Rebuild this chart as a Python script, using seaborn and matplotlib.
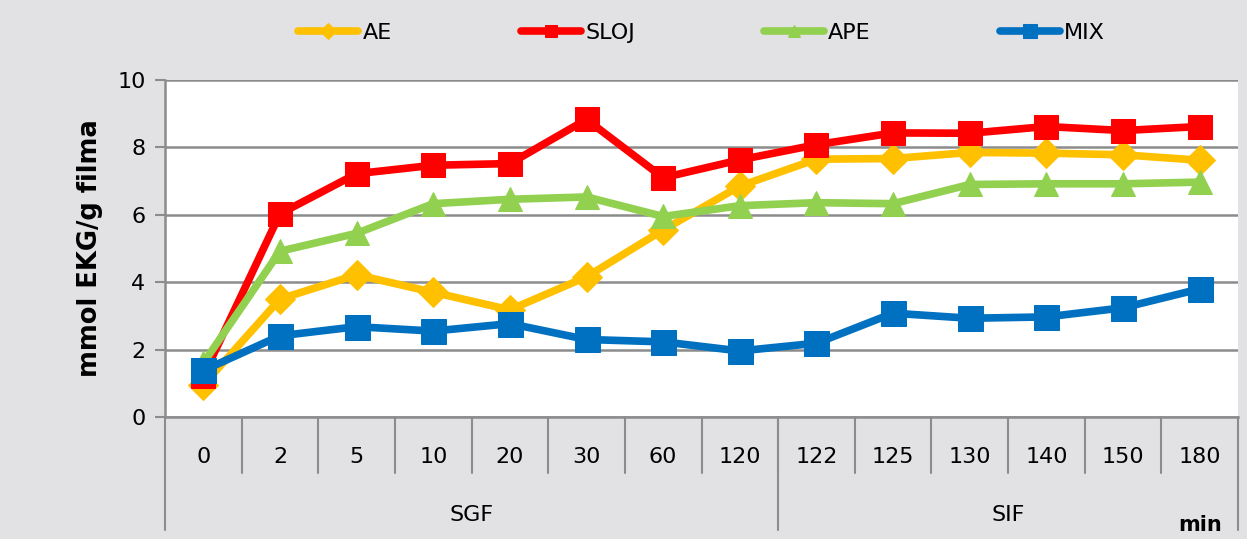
import numpy as np
import pandas as pd
import matplotlib
matplotlib.use("Agg")
import matplotlib.pyplot as plt
import matplotlib.transforms as mtransforms
import seaborn as sns

# podaci ocitani sa grafika
vreme = ['0', '2', '5', '10', '20', '30', '60', '120',
         '122', '125', '130', '140', '150', '180']
faza = ['SGF', 'SIF']
faza_broj = [8, 6]

ae = [0.95, 3.5, 4.22, 3.7, 3.18, 4.16, 5.55, 6.85, 7.65, 7.67, 7.85, 7.83, 7.78, 7.62]
sloj = [1.22, 6.03, 7.22, 7.47, 7.52, 8.83, 7.1, 7.63, 8.08, 8.43, 8.42, 8.62, 8.5, 8.62]
ape = [1.6, 4.92, 5.45, 6.33, 6.46, 6.53, 5.95, 6.27, 6.36, 6.33, 6.9, 6.92, 6.92, 6.97]
mix = [1.38, 2.41, 2.68, 2.55, 2.77, 2.3, 2.23, 1.96, 2.19, 3.08, 2.93, 2.97, 3.24, 3.8]

serije = ['AE', 'SLOJ', 'APE', 'MIX']
boje = {'AE': '#ffc000', 'SLOJ': '#ff0000', 'APE': '#92d050', 'MIX': '#0070c0'}
markeri = {'AE': 'D', 'SLOJ': 's', 'APE': '^', 'MIX': 's'}
velicine = {'AE': 15, 'SLOJ': 17, 'APE': 17, 'MIX': 18}

df = pd.DataFrame({
    'x': np.tile(np.arange(len(vreme)), 4),
    'vrednost': ae + sloj + ape + mix,
    'serija': np.repeat(serije, len(vreme)),
})

sns.set_style("white")
plt.rcParams['font.family'] = ['DejaVu Sans']
plt.rcParams['text.color'] = 'black'
plt.rcParams['axes.labelcolor'] = 'black'
plt.rcParams['ytick.labelcolor'] = 'black'

fig = plt.figure(figsize=(12.47, 5.39), dpi=100)
fig.patch.set_facecolor('#e2e2e5')
ax = fig.add_axes([165 / 1247, 1 - 417 / 539, (1238 - 165) / 1247, 337 / 539])
ax.set_facecolor('white')

for s in serije:
    d = df[df['serija'] == s]
    sns.lineplot(data=d, x='x', y='vrednost', ax=ax, color=boje[s],
                 marker=markeri[s], markersize=velicine[s], linewidth=5.5,
                 markeredgecolor=boje[s], label=s, zorder=3)

ax.set_xlim(-0.5, len(vreme) - 0.5)
ax.set_ylim(0, 10)
ax.set_yticks([0, 2, 4, 6, 8, 10])
ax.yaxis.grid(True, color='#8c8c8c', linewidth=1.8)
ax.set_axisbelow(True)
ax.tick_params(axis='y', labelsize=16, length=7, width=1.5, color='#8c8c8c',
               direction='out', left=True, pad=7)
ax.set_xticks([])
ax.set_xlabel('')
ax.set_ylabel('mmol EKG/g filma', fontsize=18.5, fontweight='bold', labelpad=10)

for sp in ['top', 'right']:
    ax.spines[sp].set_visible(False)
for sp in ['left', 'bottom']:
    ax.spines[sp].set_color('#8c8c8c')
    ax.spines[sp].set_linewidth(1.8)

# kategorijska osa sa dva nivoa
tr = mtransforms.blended_transform_factory(ax.transData, ax.transAxes)
red1 = -56 / 337
red2 = -113 / 337
for i in range(1, len(vreme)):
    ax.plot([i - 0.5, i - 0.5], [0, red1], transform=tr, color='#8c8c8c',
            linewidth=1.5, clip_on=False)
granice = [-0.5]
for n in faza_broj:
    granice.append(granice[-1] + n)
for g in granice:
    ax.plot([g, g], [0, red2], transform=tr, color='#8c8c8c',
            linewidth=1.5, clip_on=False)
for i, t in enumerate(vreme):
    ax.text(i, -40 / 337, t, transform=tr, ha='center', va='center', fontsize=16)
for j, f in enumerate(faza):
    sredina = (granice[j] + granice[j + 1]) / 2
    ax.text(sredina, -98 / 337, f, transform=tr, ha='center', va='center', fontsize=16)
ax.text(len(vreme) - 1, -108 / 337, 'min', transform=tr, ha='center', va='center',
        fontsize=15, fontweight='bold')

leg = ax.legend(loc='center', bbox_to_anchor=(0.5, 1 + 47 / 337), ncol=4,
                frameon=False, fontsize=16, columnspacing=5.8, handlelength=2.7,
                handletextpad=0.2, markerscale=0.55)
for h in leg.legend_handles:
    h.set_linewidth(5.5)

fig.savefig('out.png', dpi=100, facecolor=fig.get_facecolor())
